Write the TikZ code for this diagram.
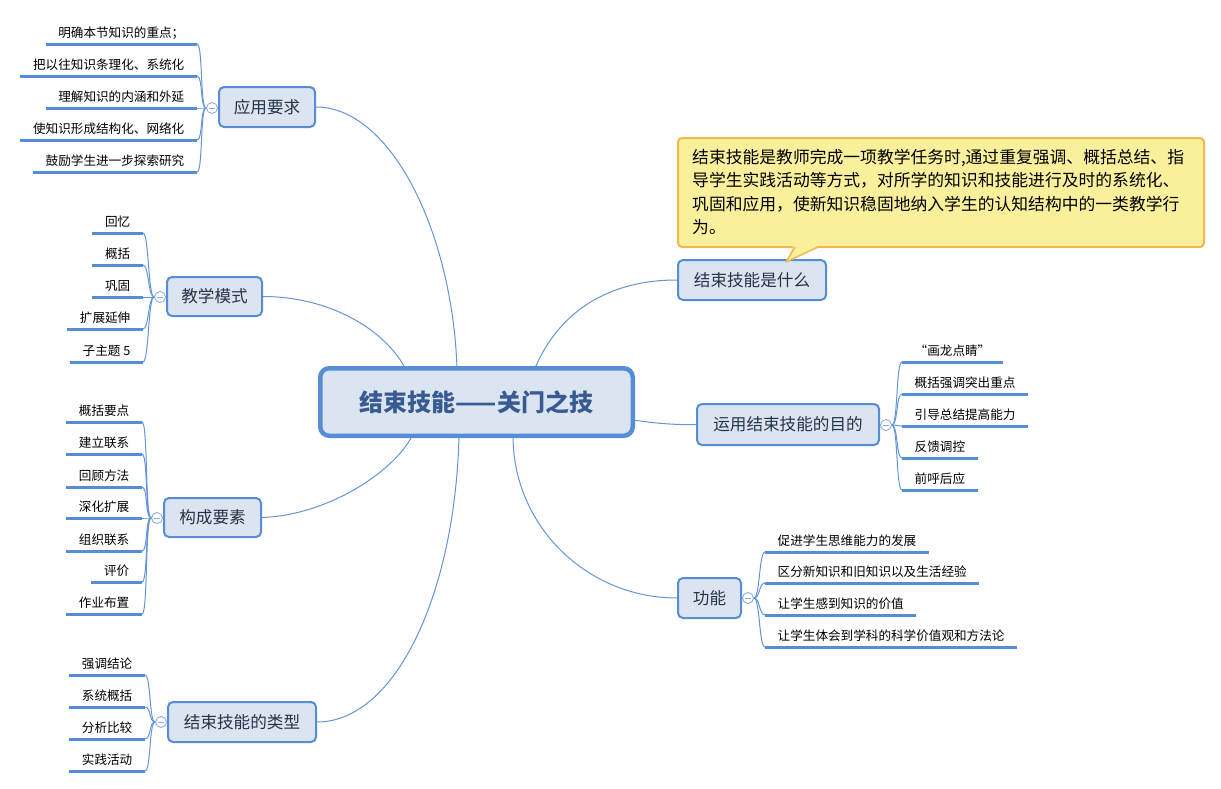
\documentclass[tikz,border=0pt]{standalone}
\usepackage{fontspec}
\setmainfont{Noto Sans CJK SC}
\usetikzlibrary{backgrounds}
\definecolor{tborder}{RGB}{86,141,212}
\definecolor{tfill}{RGB}{219,229,241}
\definecolor{ctext}{RGB}{55,90,145}
\definecolor{ttext}{RGB}{40,50,70}
\definecolor{lcurve}{RGB}{100,150,215}
\definecolor{cfill}{RGB}{250,240,155}
\definecolor{cborder}{RGB}{240,185,80}
\definecolor{collb}{RGB}{140,176,225}
\tikzset{
  central/.style={draw=tborder, fill=tfill, line width=4.5pt, rounded corners=9pt,
    minimum width=312.5pt, minimum height=67.5pt, inner sep=0pt,
    font=\bfseries\fontsize{24}{28}\selectfont, text=ctext},
  topic/.style={draw=tborder, fill=tfill, line width=2pt, rounded corners=5pt,
    inner sep=0pt, font=\fontsize{16.6}{20}\selectfont, text=ttext},
  leafL/.style={anchor=south east, inner xsep=12.5pt, inner ysep=4.2pt,
    text height=11pt, text depth=2pt, font=\fontsize{12.6}{15}\selectfont, text=black},
  leafR/.style={leafL, anchor=south west},
  uline/.style={draw=tborder, line width=3pt},
  maincurve/.style={draw=lcurve, line width=1pt},
  leafcurve/.style={draw=lcurve, line width=1pt},
  coll/.style={circle, draw=collb, fill=white, line width=0.9pt, minimum size=11pt, inner sep=0pt,
    path picture={\draw[collb, line width=0.9pt] ([xshift=-3pt]path picture bounding box.center) -- ([xshift=3pt]path picture bounding box.center);}},
  callout/.style={draw=cborder, fill=cfill, line width=2pt, rounded corners=4pt, inner sep=0pt},
  calltext/.style={anchor=north west, align=left, inner sep=0pt,
    font=\fontsize{16.8}{23.5}\selectfont, text=black}
}
\begin{document}
\begin{tikzpicture}[x=1pt, y=-1pt]
\useasboundingbox (0,0) rectangle (1221,788);

% central node
\node[central] (c) at (476.5,402) {结束技能——关门之技};

% callout
\node[callout, minimum width=526pt, minimum height=109pt] (call) at (941,192.5) {};
\node[calltext] (ctext) at (692,149) {结束技能是教师完成一项教学任务时,通过重复强调、概括总结、指\\导学生实践活动等方式，对所学的知识和技能进行及时的系统化、\\巩固和应用，使新知识稳固地纳入学生的认知结构中的一类教学行\\为。};

% topics
\node[topic, minimum width=96pt, minimum height=40pt] (t1) at (267,107) {应用要求};
\node[topic, minimum width=95pt, minimum height=39pt] (t2) at (214.5,296.5) {教学模式};
\node[topic, minimum width=97pt, minimum height=39pt] (t3) at (212.5,517.5) {构成要素};
\node[topic, minimum width=148pt, minimum height=40pt] (t4) at (242,722) {结束技能的类型};
\node[topic, minimum width=148pt, minimum height=40pt] (t5) at (752,280) {结束技能是什么};
\node[topic, minimum width=182pt, minimum height=41pt] (t6) at (788,424.5) {运用结束技能的目的};
\node[topic, minimum width=63pt, minimum height=40pt] (t7) at (709.5,598) {功能};

% callout pointer
\fill[cfill] (794,245) -- (786,262) -- (820,245) -- cycle;
\draw[cborder, line width=1.5pt, line join=round] (795,247) -- (786,262) -- (818,247);

% main connectors
\begin{scope}[on background layer]
\fill[white] (0,0) rectangle (1221,788);
\draw[maincurve] (t1.east) .. controls (390,107) and (452,230) .. ([xshift=-19.5pt,yshift=-2pt]c.north);
\draw[maincurve] (t2.east) .. controls (330,296.5) and (385,330) .. ([xshift=-71.5pt,yshift=-2pt]c.north);
\draw[maincurve] (t3.east) .. controls (330,515) and (395,470) .. ([xshift=-64.5pt,yshift=2pt]c.south);
\draw[maincurve] (t4.east) .. controls (395,722) and (455,595) .. ([xshift=-17.5pt,yshift=2pt]c.south);
\draw[maincurve] (t5.west) .. controls (610,280) and (560,310) .. ([xshift=58.5pt,yshift=-2pt]c.north);
\draw[maincurve] (t6.west) .. controls (680,425) and (660,424) .. ([xshift=-2pt,yshift=-18pt]c.east);
\draw[maincurve] (t7.west) .. controls (587,598) and (513,526) .. ([xshift=36.5pt,yshift=2pt]c.south);
\end{scope}

% collapse circles
\node[coll] (ca) at (212,108) {};
\node[coll] (cb) at (160,297) {};
\node[coll] (cc) at (157,518) {};
\node[coll] (cd) at (161,722) {};
\node[coll] (ce) at (886,425) {};
\node[coll] (cf) at (748,598) {};
\draw[leafcurve] (t1.west) -- (ca.east);
\draw[leafcurve] (t2.west) -- (cb.east);
\draw[leafcurve] (t3.west) -- (cc.east);
\draw[leafcurve] (t4.west) -- (cd.east);
\draw[leafcurve] (t6.east) -- (ce.west);
\draw[leafcurve] (t7.east) -- (cf.west);

% group A
\foreach \n/\y/\t in {1/44/明确本节知识的重点；,2/76/把以往知识条理化、系统化,3/108/理解知识的内涵和外延,4/140/使知识形成结构化、网络化,5/172/鼓励学生进一步探索研究}{
  \node[leafL] (a\n) at (197,\y) {\t};
  \draw[uline] (a\n.south west) -- (a\n.south east);
  \draw[leafcurve] (ca.west) .. controls +(-6,0) and +(6,0) .. (a\n.south east);
}
% group B
\foreach \n/\y/\t in {1/233/回忆,2/265/概括,3/297/巩固,4/329/扩展延伸,5/362/子主题 5}{
  \node[leafL] (b\n) at (143,\y) {\t};
  \draw[uline] (b\n.south west) -- (b\n.south east);
  \draw[leafcurve] (cb.west) .. controls +(-6,0) and +(6,0) .. (b\n.south east);
}
% group C
\foreach \n/\y/\t in {1/422/概括要点,2/454/建立联系,3/487/回顾方法,4/518/深化扩展,5/551/组织联系,6/582/评价,7/614/作业布置}{
  \node[leafL] (cl\n) at (142,\y) {\t};
  \draw[uline] (cl\n.south west) -- (cl\n.south east);
  \draw[leafcurve] (cc.west) .. controls +(-6,0) and +(6,0) .. (cl\n.south east);
}
% group D
\foreach \n/\y/\t in {1/675/强调结论,2/707/系统概括,3/739/分析比较,4/771/实践活动}{
  \node[leafL] (d\n) at (145,\y) {\t};
  \draw[uline] (d\n.south west) -- (d\n.south east);
  \draw[leafcurve] (cd.west) .. controls +(-6,0) and +(6,0) .. (d\n.south east);
}
% group E
\foreach \n/\y/\t in {1/362/“画龙点睛”,2/394/概括强调突出重点,3/426/引导总结提高能力,4/458/反馈调控,5/490/前呼后应}{
  \node[leafR] (e\n) at (902,\y) {\t};
  \draw[uline] (e\n.south west) -- (e\n.south east);
  \draw[leafcurve] (ce.east) .. controls +(6,0) and +(-6,0) .. (e\n.south west);
}
% group F
\foreach \n/\y/\t in {1/552/促进学生思维能力的发展,2/583/区分新知识和旧知识以及生活经验,3/615/让学生感到知识的价值,4/647/让学生体会到学科的科学价值观和方法论}{
  \node[leafR] (f\n) at (765,\y) {\t};
  \draw[uline] (f\n.south west) -- (f\n.south east);
  \draw[leafcurve] (cf.east) .. controls +(6,0) and +(-6,0) .. (f\n.south west);
}
\end{tikzpicture}
\end{document}
